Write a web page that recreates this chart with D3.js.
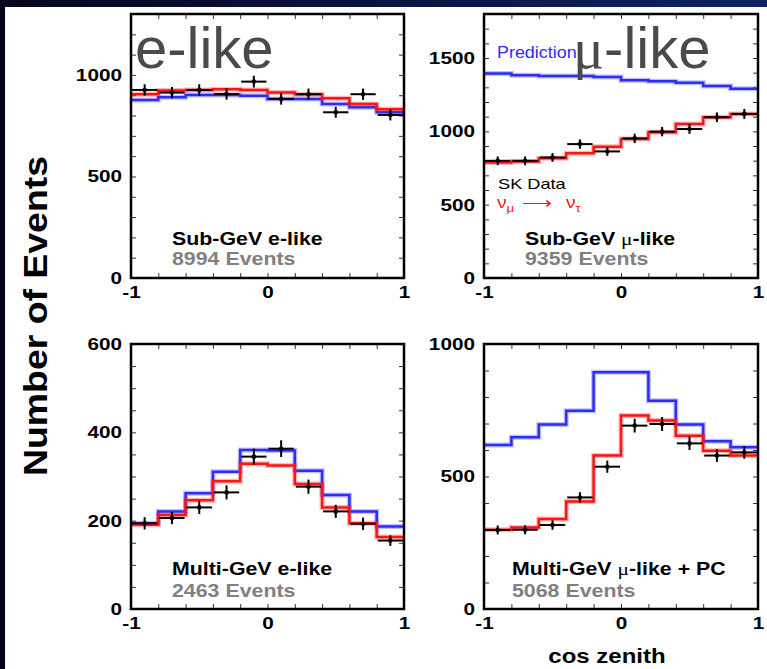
<!DOCTYPE html>
<html>
<head>
<meta charset="utf-8">
<script src="https://cdn.jsdelivr.net/npm/d3@7"></script>
<style>
body { margin: 0; background: #03041a; overflow: hidden; }
text { font-family: "Liberation Sans", Arial, sans-serif; }
</style>
</head>
<body>
<svg id="chart" width="767" height="669"></svg>
<script>
// cos(zenith) binning
var binEdges = [-1, -0.8, -0.6, -0.4, -0.2, 0, 0.2, 0.4, 0.6, 0.8, 1];
var binCenters = [-0.9, -0.7, -0.5, -0.3, -0.1, 0.1, 0.3, 0.5, 0.7, 0.9];
var xTickLabels = [-1, 0, 1];

// Sub-GeV e-like
var subEData = [926, 913, 926, 906, 967, 882, 905, 816, 905, 803];
var subEErr = [28, 28, 28, 28, 29, 28, 28, 27, 28, 27];
var subEPred = [877, 890, 901, 901, 897, 882, 882, 857, 841, 816];
var subEOsc = [905, 923, 926, 929, 926, 913, 905, 885, 857, 831];
var subEYTicks = [0, 500, 1000];

// Sub-GeV mu-like
var subMuData = [799, 799, 822, 913, 863, 952, 998, 1016, 1096, 1119];
var subMuErr = [30, 30, 30, 32, 30, 32, 32, 33, 33, 34];
var subMuPred = [1394, 1382, 1378, 1378, 1371, 1348, 1341, 1332, 1309, 1291];
var subMuOsc = [787, 794, 817, 851, 895, 947, 993, 1050, 1096, 1119];
var subMuYTicks = [0, 500, 1000, 1500];

// Multi-GeV e-like
var multiEData = [194, 206, 230, 264, 345, 363, 277, 221, 193, 155];
var multiEErr = [14, 14, 15, 16, 18, 19, 16, 15, 14, 12];
var multiEPred = [194, 221, 262, 311, 360, 359, 313, 258, 221, 187];
var multiEOsc = [191, 213, 246, 289, 329, 325, 283, 230, 194, 163];
var multiEYTicks = [0, 200, 400, 600];

// Multi-GeV mu-like + PC
var multiMuData = [298, 299, 317, 421, 537, 692, 698, 625, 579, 591];
var multiMuErr = [17, 17, 18, 20, 23, 26, 26, 25, 24, 24];
var multiMuPred = [619, 648, 696, 748, 893, 893, 786, 696, 633, 610];
var multiMuOsc = [299, 308, 340, 406, 579, 730, 711, 654, 597, 579];
var multiMuYTicks = [0, 500, 1000];

var svg = d3.select('#chart');

// slide background: dark frame with a blue band on top
var defs = svg.append('defs');
var grad = defs.append('linearGradient').attr('id', 'band');
grad.append('stop').attr('offset', '0%').attr('stop-color', '#04061c');
grad.append('stop').attr('offset', '100%').attr('stop-color', '#0e2266');
svg.append('rect').attr('width', 767).attr('height', 669).attr('fill', '#03041a');
svg.append('rect').attr('width', 767).attr('height', 7).attr('fill', 'url(#band)');
svg.append('rect').attr('x', 5).attr('y', 7).attr('width', 762).attr('height', 662).attr('fill', '#fff');

// text helper, slide fonts are a bit wide so stretch horizontally
function label(g, x, y, txt, size, opts) {
    opts = opts || {};
    return g.append('text')
        .attr('transform', 'translate(' + x + ',' + y + ') scale(' + (opts.sx || 1) + ',1)')
        .attr('font-size', size)
        .attr('font-weight', opts.weight || 'bold')
        .attr('fill', opts.fill || '#000')
        .text(txt);
}

var panels = [
    { left: 131, top: 14, width: 273, height: 264, yMax: 1300, minor: 100, ticks: subEYTicks,
      data: subEData, err: subEErr, pred: subEPred, osc: subEOsc,
      name: 'Sub-GeV e-like', events: '8994 Events', tx: 41, ty1: 33, ty2: 13 },
    { left: 484, top: 14, width: 274, height: 264, yMax: 1800, minor: 100, ticks: subMuYTicks,
      data: subMuData, err: subMuErr, pred: subMuPred, osc: subMuOsc,
      name: ['Sub-GeV  ', 'μ', '-like'], events: '9359 Events', tx: 41, ty1: 33, ty2: 13 },
    { left: 131, top: 344, width: 273, height: 265, yMax: 600, minor: 50, ticks: multiEYTicks,
      data: multiEData, err: multiEErr, pred: multiEPred, osc: multiEOsc,
      name: 'Multi-GeV e-like', events: '2463 Events', tx: 41, ty1: 34, ty2: 12 },
    { left: 484, top: 344, width: 274, height: 265, yMax: 1000, minor: 100, ticks: multiMuYTicks,
      data: multiMuData, err: multiMuErr, pred: multiMuPred, osc: multiMuOsc,
      name: ['Multi-GeV  ', 'μ', '-like + PC'], events: '5068 Events', tx: 28, ty1: 34, ty2: 12 }
];

panels.forEach(function (p) {
    var g = svg.append('g').attr('transform', 'translate(' + p.left + ',' + p.top + ')');
    var x = d3.scaleLinear().domain([-1, 1]).range([0, p.width]);
    var y = d3.scaleLinear().domain([0, p.yMax]).range([p.height, 0]);

    var step = d3.line().curve(d3.curveStepAfter)
        .x(function (d) { return x(d[0]); })
        .y(function (d) { return y(d[1]); });
    function stepPoints(vals) {
        var pts = vals.map(function (v, i) { return [binEdges[i], v]; });
        pts.push([binEdges[vals.length], vals[vals.length - 1]]);
        return pts;
    }

    // minor ticks on all four sides, pointing inward
    var minorY = d3.range(0, p.yMax + 1, p.minor);
    g.append('g').call(d3.axisLeft(y).tickValues(minorY).tickSizeInner(-5).tickSizeOuter(0).tickFormat(''));
    g.append('g').attr('transform', 'translate(' + p.width + ',0)')
        .call(d3.axisRight(y).tickValues(minorY).tickSizeInner(-5).tickSizeOuter(0).tickFormat(''));
    g.append('g').attr('transform', 'translate(0,' + p.height + ')')
        .call(d3.axisBottom(x).tickValues(binEdges).tickSizeInner(-5).tickSizeOuter(0).tickFormat(''));
    g.append('g').call(d3.axisTop(x).tickValues(binEdges).tickSizeInner(-5).tickSizeOuter(0).tickFormat(''));
    g.selectAll('.domain').remove();
    g.selectAll('.tick line').attr('stroke', '#333').attr('stroke-width', 1);

    // labelled axes (plain hyphen for the minus sign, as on the slide)
    var yAx = g.append('g').call(d3.axisLeft(y).tickValues(p.ticks).tickSize(0).tickPadding(9).tickFormat(String));
    var xAx = g.append('g').attr('transform', 'translate(0,' + p.height + ')')
        .call(d3.axisBottom(x).tickValues(xTickLabels).tickSize(0).tickPadding(8).tickFormat(String));
    [yAx, xAx].forEach(function (a) {
        a.select('.domain').remove();
        a.selectAll('text').attr('font-size', 17).attr('font-weight', 'bold')
            .attr('font-family', '"Liberation Sans", Arial, sans-serif').attr('fill', '#000');
    });
    yAx.selectAll('text').attr('x', 0).attr('transform', 'translate(-9,0) scale(1.22,1)');
    xAx.selectAll('text').attr('transform', 'scale(1.22,1)');

    // prediction (blue) and oscillation fit (red)
    [[p.pred, '#2c2cff'], [p.osc, '#ff1414']].forEach(function (s) {
        g.append('path').attr('d', step(stepPoints(s[0])))
            .attr('fill', 'none').attr('stroke', s[1]).attr('stroke-opacity', 0.3).attr('stroke-width', 5);
        g.append('path').attr('d', step(stepPoints(s[0])))
            .attr('fill', 'none').attr('stroke', s[1]).attr('stroke-width', 2.5);
    });

    // data points with error bars
    var pts = g.selectAll('.pt').data(p.data).enter().append('g').attr('class', 'pt');
    pts.append('line')
        .attr('x1', function (d, i) { return x(binEdges[i]) + 1; })
        .attr('x2', function (d, i) { return x(binEdges[i + 1]) - 1; })
        .attr('y1', function (d) { return y(d); })
        .attr('y2', function (d) { return y(d); })
        .attr('stroke', '#000').attr('stroke-width', 2);
    pts.append('line')
        .attr('x1', function (d, i) { return x(binCenters[i]); })
        .attr('x2', function (d, i) { return x(binCenters[i]); })
        .attr('y1', function (d, i) { return y(d + p.err[i]); })
        .attr('y2', function (d, i) { return y(d - p.err[i]); })
        .attr('stroke', '#000').attr('stroke-width', 2);
    pts.append('circle')
        .attr('cx', function (d, i) { return x(binCenters[i]); })
        .attr('cy', function (d) { return y(d); })
        .attr('r', 2.3).attr('fill', '#000');

    // frame
    g.append('rect').attr('width', p.width).attr('height', p.height)
        .attr('fill', 'none').attr('stroke', '#000').attr('stroke-width', 2.5);

    // sample name and event count
    var t = label(g, p.tx, p.height - p.ty1, '', 17.5, { sx: 1.22 });
    if (typeof p.name === 'string') {
        t.text(p.name);
    } else {
        t.append('tspan').text(p.name[0]);
        t.append('tspan').attr('font-weight', 'normal').attr('font-family', '"Liberation Serif", serif').text(p.name[1]);
        t.append('tspan').text(p.name[2]);
    }
    label(g, p.tx, p.height - p.ty2, p.events, 17.5, { sx: 1.22, fill: '#808080' });
});

// legend inside the Sub-GeV mu-like panel
label(svg, 497, 58, 'Prediction', 16, { sx: 1.12, weight: 'normal', fill: '#2c2cff' });
label(svg, 498, 189, 'SK Data', 14, { sx: 1.3, weight: 'normal' });
var nuA = label(svg, 497, 208, '', 16, { sx: 1.2, weight: 'normal', fill: '#ff1414' })
    .attr('font-family', '"Liberation Serif", serif');
nuA.append('tspan').text('ν');
nuA.append('tspan').attr('font-size', 11).attr('dy', 4).text('μ');
label(svg, 522, 208, '⟶', 15, { sx: 1.4, weight: 'normal', fill: '#ff1414' })
    .attr('font-family', '"DejaVu Sans", sans-serif');
var nuB = label(svg, 566, 208, '', 16, { sx: 1.2, weight: 'normal', fill: '#ff1414' })
    .attr('font-family', '"Liberation Serif", serif');
nuB.append('tspan').text('ν');
nuB.append('tspan').attr('font-size', 11).attr('dy', 4).text('τ');

// big slide labels
label(svg, 135, 68, 'e-like', 58, { weight: 'normal', fill: '#4a4a4a' });
var mu = label(svg, 573, 68, '', 58, { weight: 'normal', fill: '#4a4a4a' });
mu.append('tspan').attr('font-family', '"Liberation Serif", serif').text('μ');
mu.append('tspan').text('-like');

// axis titles
svg.append('text')
    .attr('transform', 'translate(47,316) rotate(-90) scale(1.1,1)')
    .attr('text-anchor', 'middle')
    .attr('font-size', 34).attr('font-weight', 'bold')
    .text('Number of Events');
svg.append('text')
    .attr('transform', 'translate(607,663) scale(1.2,1)')
    .attr('text-anchor', 'middle')
    .attr('font-size', 20).attr('font-weight', 'bold')
    .text('cos zenith');
</script>
</body>
</html>
